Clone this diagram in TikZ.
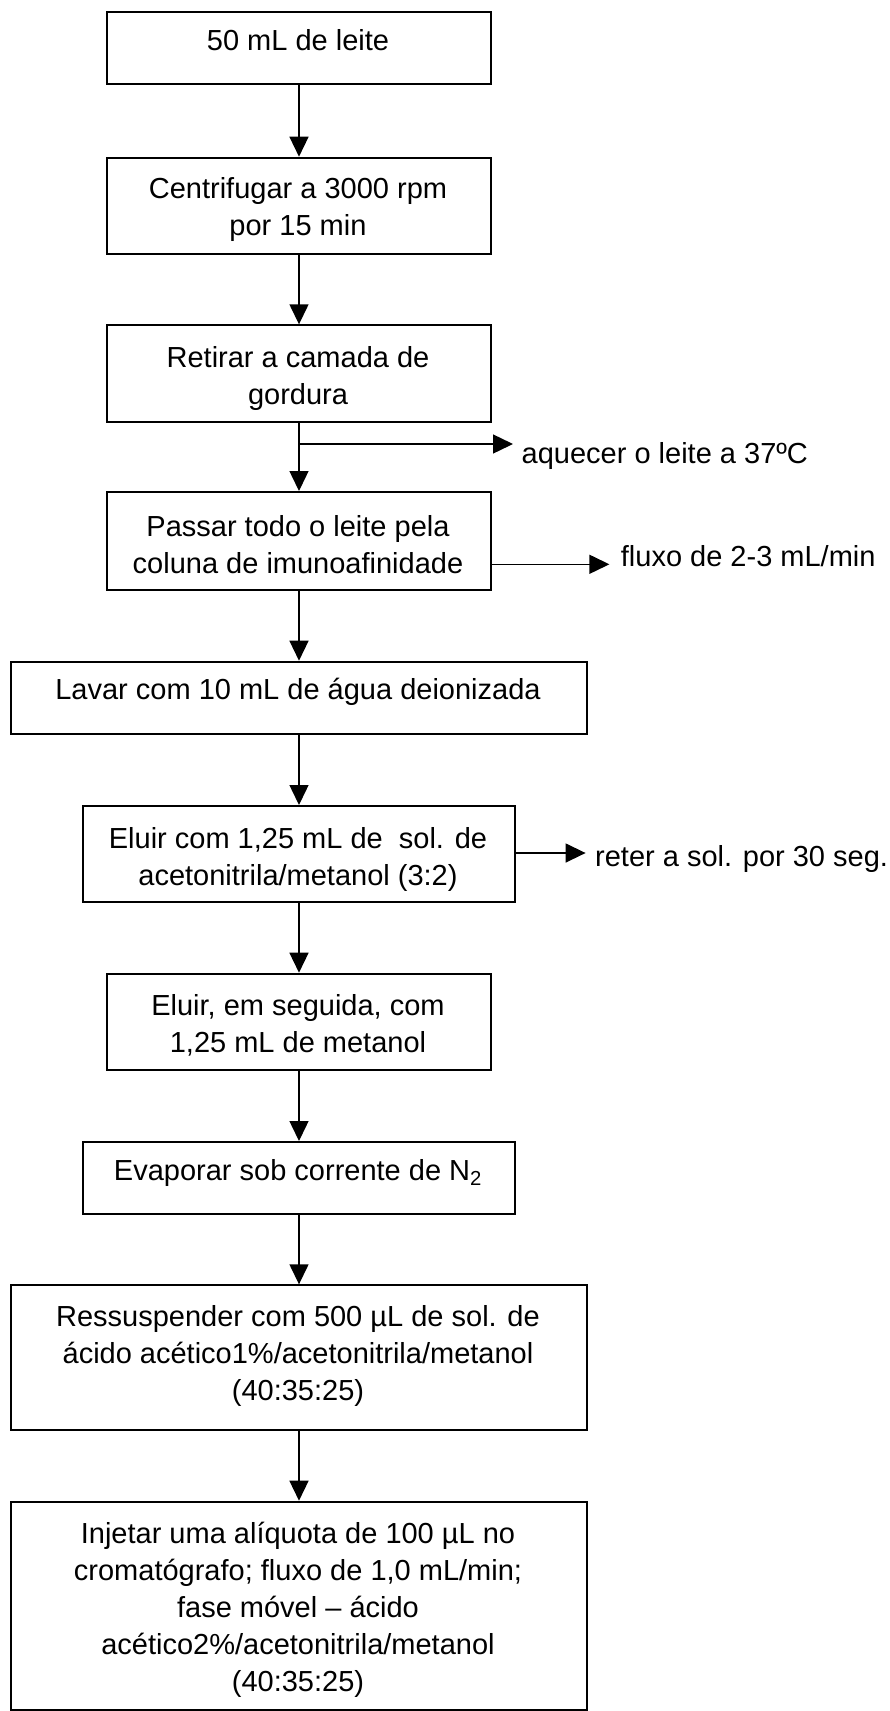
\documentclass[tikz,border=0pt]{standalone}
\usepackage{fontspec}
\setmainfont{Liberation Sans}
\usetikzlibrary{arrows.meta}
\newcommand\firststrut{\rule{0pt}{27pt}}
\begin{document}
\begin{tikzpicture}[x=1pt,y=-1pt,
  box/.style={draw,line width=2pt,inner sep=0pt,anchor=north west},
  txt/.style={font=\fontsize{29}{37}\selectfont,align=center,anchor=north,inner sep=0pt},
  side/.style={font=\fontsize{29}{37}\selectfont,anchor=base west,inner sep=0pt},
  flow/.style={line width=1.4pt,-{Triangle[length=20pt,width=19pt]}}
]
\useasboundingbox (0,0) rectangle (889,1711);

% boxes
\node[box,minimum width=384,minimum height=72.3] (b1) at (106,10.7) {};
\node[box,minimum width=384,minimum height=96.3] (b2) at (106,156.7) {};
\node[box,minimum width=384,minimum height=96.4] (b3) at (106,324.3) {};
\node[box,minimum width=384,minimum height=98] (b4) at (106,491) {};
\node[box,minimum width=576,minimum height=72.6] (b5) at (10,660.7) {};
\node[box,minimum width=432,minimum height=96] (b6) at (82,805) {};
\node[box,minimum width=384,minimum height=96.6] (b7) at (106,972.7) {};
\node[box,minimum width=432,minimum height=71.7] (b8) at (82,1141) {};
\node[box,minimum width=576,minimum height=145] (b9) at (10,1284.3) {};
\node[box,minimum width=576,minimum height=208] (b10) at (10,1500.7) {};

% texts
\node[txt] (t1) at (298,23) {\firststrut 50 mL de leite};
\node[txt] (t2) at (298,171) {\firststrut Centrifugar a 3000 rpm\\por 15 min};
\node[txt] (t3) at (298,340) {\firststrut Retirar a camada de\\gordura};
\node[txt] (t4) at (298,509) {\firststrut Passar todo o leite pela\\coluna de imunoafinidade};
\node[txt] (t5) at (298,672.3) {\firststrut Lavar com 10 mL de água deionizada};
\node[txt] (t6) at (298,821.3) {\firststrut Eluir com 1,25 mL de \ sol. de\\acetonitrila/metanol (3:2)};
\node[txt] (t7) at (298,988) {\firststrut Eluir, em seguida, com\\1,25 mL de metanol};
\node[txt] (t8) at (298,1153) {\firststrut Evaporar sob corrente de N\textsubscript{2}};
\node[txt] (t9) at (298,1299.7) {\firststrut Ressuspender com 500 µL de sol. de\\ácido acético1\%/acetonitrila/metanol\\(40:35:25)};
\node[txt] (t10) at (298,1516.3) {\firststrut Injetar uma alíquota de 100 µL no\\cromatógrafo; fluxo de 1,0 mL/min;\\fase móvel – ácido\\acético2\%/acetonitrila/metanol\\(40:35:25)};

% main flow
\draw[flow] (b1.south) -- (b2.north);
\draw[flow] (b2.south) -- (b3.north);
\draw[flow] (b3.south) -- (b4.north);
\draw[flow] (b4.south) -- (b5.north);
\draw[flow] (b5.south) -- (b6.north);
\draw[flow] (b6.south) -- (b7.north);
\draw[flow] (b7.south) -- (b8.north);
\draw[flow] (b8.south) -- (b9.north);
\draw[flow] (b9.south) -- (b10.north);

% side branches
\coordinate (j1) at (298,444);
\coordinate (e1) at (513,444);
\draw[flow] (j1) -- (e1);
\node[side] (s1) at (521.5,463) {aquecer o leite a 37ºC};

\coordinate (e2) at (609.4,564.3);
\draw[flow] (b4.east |- e2) -- (e2);
\node[side] (s2) at (620.7,566.7) {fluxo de 2-3 mL/min};

\coordinate (e3) at (585.6,853);
\draw[flow] (b6.east |- e3) -- (e3);
\node[side] (s3) at (595,866.7) {reter a sol. por 30 seg.};
\end{tikzpicture}
\end{document}
